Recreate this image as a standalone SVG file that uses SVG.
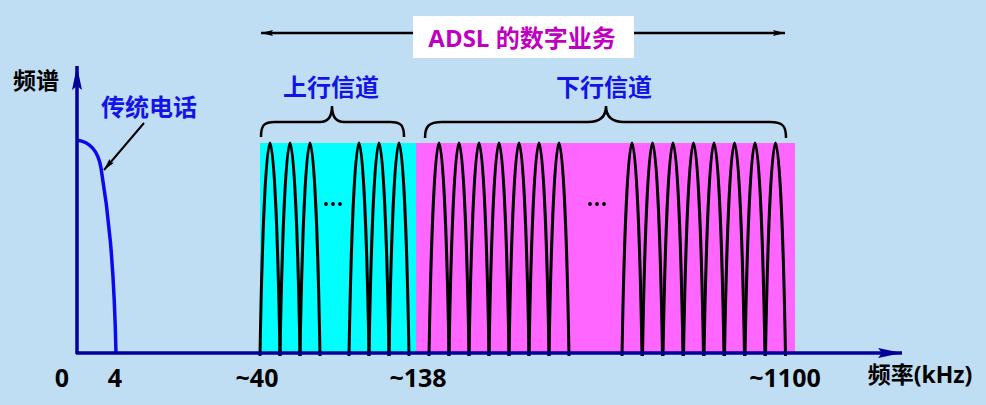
<svg xmlns="http://www.w3.org/2000/svg" width="986" height="405" viewBox="0 0 986 405">
<style>
.t{font-family:"Open Sans","Noto Sans CJK SC",sans-serif;font-weight:bold}
.lbl{font-size:25px;fill:#000}
.cn{font-size:23px;fill:#000}
.blue{font-size:24px;fill:#1414E6}
.lobe{fill:none;stroke:#000;stroke-width:3}
.brace{fill:none;stroke:#000;stroke-width:2.5}
.dot{fill:#000}
</style>
<defs>
<marker id="ah" viewBox="0 0 12 6" refX="12" refY="3" markerWidth="12" markerHeight="6" orient="auto" markerUnits="userSpaceOnUse"><path d="M0,0 L12,3 L0,6 L2,3 Z" fill="#000"/></marker>
<marker id="ax" viewBox="0 0 24 10" refX="24" refY="5" markerWidth="24" markerHeight="10" orient="auto" markerUnits="userSpaceOnUse"><path d="M0,0 L24,5 L0,10 L4,5 Z" fill="#000099"/></marker>
<path id="lobe" class="lobe" d="M0,356 C2,240 6,143 10,143 C14,143 18,240 20,356"/>
</defs>
<rect width="986" height="405" fill="#BFDEF3"/>
<g id="bands">
<rect x="260" y="143" width="156" height="211" fill="#00FFFF"/>
<rect x="416" y="143" width="379" height="211" fill="#FF66FF"/>
</g>
<g id="upstream">
<use href="#lobe" x="260"/><use href="#lobe" x="280"/><use href="#lobe" x="300"/>
<use href="#lobe" x="349"/><use href="#lobe" x="369"/><use href="#lobe" x="389"/>
<circle class="dot" cx="326" cy="204" r="1.9"/><circle class="dot" cx="333" cy="204" r="1.9"/><circle class="dot" cx="340" cy="204" r="1.9"/>
</g>
<g id="downstream">
<use href="#lobe" x="429"/><use href="#lobe" x="449"/><use href="#lobe" x="469"/><use href="#lobe" x="489"/><use href="#lobe" x="509"/><use href="#lobe" x="529"/><use href="#lobe" x="549"/>
<use href="#lobe" x="622"/><use href="#lobe" x="642.5"/><use href="#lobe" x="663"/><use href="#lobe" x="683.5"/><use href="#lobe" x="704"/><use href="#lobe" x="724.5"/><use href="#lobe" x="745"/><use href="#lobe" x="765.5"/>
<circle class="dot" cx="590" cy="204" r="1.9"/><circle class="dot" cx="597" cy="204" r="1.9"/><circle class="dot" cx="604" cy="204" r="1.9"/>
</g>
<g id="phone">
<path d="M77,140 C90,142 98,150 101,168 C108,210 114,260 116,354" fill="none" stroke="#0A0AEE" stroke-width="3.5"/>
<text class="t blue" x="149" y="116" text-anchor="middle">传统电话</text>
</g>
<g id="axes">
<line x1="77" y1="354" x2="77" y2="66" stroke="#000099" stroke-width="3.5" marker-end="url(#ax)"/>
<line x1="76" y1="353" x2="902" y2="353" stroke="#000099" stroke-width="3.5" marker-end="url(#ax)"/>
<text class="t cn" x="36" y="89" text-anchor="middle">频谱</text>
</g>
<g id="connectors">
<line x1="144" y1="123" x2="104" y2="170" stroke="#000" stroke-width="2" marker-end="url(#ah)"/>
<line x1="413" y1="33" x2="261" y2="33" stroke="#000" stroke-width="2.5" marker-end="url(#ah)"/>
<line x1="634" y1="33" x2="785" y2="33" stroke="#000" stroke-width="2.5" marker-end="url(#ah)"/>
</g>
<g id="adsl">
<rect x="413" y="16" width="221" height="42" fill="#FFFFFF"/>
<text class="t" x="522" y="47" font-size="24" fill="#C000C0" text-anchor="middle">ADSL 的数字业务</text>
</g>
<g id="brace-up">
<path class="brace" d="M261,137 C261,125 264,122 275,122 L320,122 C329,122 332,116 332,106 C332,116 335,122 344,122 L390,122 C401,122 404,125 404,137"/>
<text class="t blue" x="331" y="96" text-anchor="middle">上行信道</text>
</g>
<g id="brace-down">
<path class="brace" d="M425,138 C425,126 429,122 442,122 L588,122 C601,122 606,116 606,106 C606,116 611,122 624,122 L770,122 C783,122 786,126 786,138"/>
<text class="t blue" x="604" y="96" text-anchor="middle">下行信道</text>
</g>
<g id="ticks">
<text class="t lbl" x="62" y="387" text-anchor="middle">0</text>
<text class="t lbl" x="115" y="387" text-anchor="middle">4</text>
<text class="t lbl" x="257" y="387" text-anchor="middle">~40</text>
<text class="t lbl" x="418" y="387" text-anchor="middle">~138</text>
<text class="t lbl" x="785" y="387" text-anchor="middle">~1100</text>
<text class="t" x="920" y="383" font-size="23" fill="#000" text-anchor="middle">频率(kHz)</text>
</g>
</svg>
